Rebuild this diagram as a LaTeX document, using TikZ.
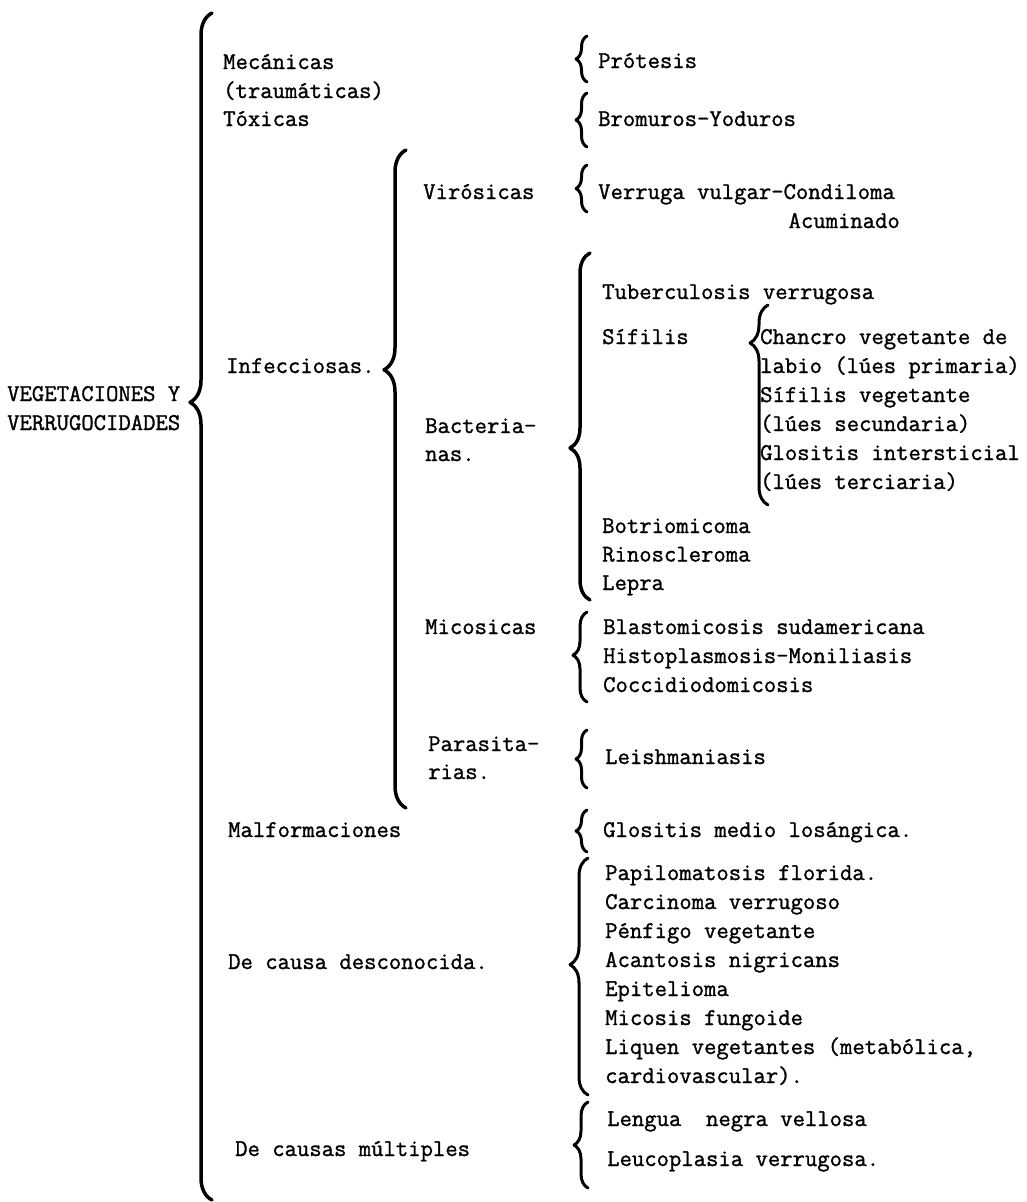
\documentclass[tikz,border=0pt]{standalone}
\usepackage{fontspec}
\setmonofont[AutoFakeBold=1.2]{Latin Modern Mono}
\usetikzlibrary{decorations.pathreplacing}
\begin{document}
\begin{tikzpicture}[x=1pt, y=-1pt,
		font=\ttfamily\bfseries\fontsize{24}{29}\selectfont,
		texto/.style={anchor=base west, inner sep=0pt, yshift=-6pt},
		llave/.style={decorate, decoration={brace, amplitude=#1}, line width=3pt, line cap=round, line join=round},
		llave/.default=11]
	\fill[white] (0,0) rectangle (1026,1202);
	\useasboundingbox (0,0) rectangle (1026,1202);
	% Raiz
	\node[texto] (raiz1) at (7,395) {VEGETACIONES Y};
	\node[texto] (raiz2) at (7,424) {VERRUGOCIDADES};
	\draw[llave=22, line width=3.5pt, decoration={aspect=0.672}] (212,1200) -- (212,13);
	% Primer nivel
	\node[texto] (mec) at (223,63) {Mecánicas};
	\node[texto] (trau) at (223,92) {(traumáticas)};
	\node[texto] (tox) at (223,120) {Tóxicas};
	\node[texto] (inf) at (226,367) {Infecciosas.};
	\node[texto] (malf) at (228,831) {Malformaciones};
	\node[texto] (desc) at (228,963) {De causa desconocida.};
	\node[texto] (mult) at (235,1150) {De causas múltiples};
	% Infecciosas
	\draw[llave=22, line width=3.5pt, decoration={aspect=0.666}] (406,808) -- (406,150);
	\node[texto] (vir) at (423,193) {Virósicas};
	\node[texto] (bac1) at (425,427) {Bacteria-};
	\node[texto] (bac2) at (425,455) {nas.};
	\node[texto] (mic) at (425,628) {Micosicas};
	\node[texto] (par1) at (428,745) {Parasita-};
	\node[texto] (par2) at (428,773) {rias.};
	% Llaves de la derecha
	\foreach \arriba/\abajo in {36/82, 93/147, 165/212, 730/788, 810/852}
		\draw[llave] (587,\abajo) -- (587,\arriba);
	\draw[llave=20, line width=3.5pt, decoration={aspect=0.438}] (590,600) -- (590,253);
	\draw[llave=18, decoration={aspect=0.81}] (768,505) -- (768,305);
	\draw[llave=14, decoration={aspect=0.52}] (587,702) -- (587,612);
	\draw[llave=18, decoration={aspect=0.55}] (588,1095) -- (588,858);
	\draw[llave=14] (588,1188) -- (588,1102);
	% Causas
	\node[texto] (prot) at (598,62) {Prótesis};
	\node[texto] (brom) at (598,120) {Bromuros-Yoduros};
	\node[texto] (verr) at (598,193) {Verruga vulgar-Condiloma};
	\node[texto, anchor=base east] (acum) at (900,222) {Acuminado};
	\node[texto] (tbc) at (602,293) {Tuberculosis verrugosa};
	\node[texto] (sif) at (602,338) {Sífilis};
	\foreach \t [count=\i from 0] in {Chancro vegetante de, labio (lúes primaria), Sífilis vegetante, (lúes secundaria), Glositis intersticial, (lúes terciaria)}
		\node[texto] (sif\i) at (760,{338+29*\i}) {\t};
	\foreach \t [count=\i from 0] in {Botriomicoma, Rinoscleroma, Lepra}
		\node[texto] (bact\i) at (602,{527+28.5*\i}) {\t};
	\foreach \t [count=\i from 0] in {Blastomicosis sudamericana, Histoplasmosis-Moniliasis, Coccidiodomicosis}
		\node[texto] (mico\i) at (603,{628+29*\i}) {\t};
	\node[texto] (leish) at (605,758) {Leishmaniasis};
	\node[texto] (glos) at (603,831) {Glositis medio losángica.};
	\foreach \t [count=\i from 0] in {Papilomatosis florida., Carcinoma verrugoso, Pénfigo vegetante, Acantosis nigricans, Epitelioma, Micosis fungoide, {Liquen vegetantes (metabólica,}, cardiovascular).}
		\node[texto] (desc\i) at (605,{874+29*\i}) {\t};
	\node[texto] (leng) at (607,1120) {Lengua\ \ negra vellosa};
	\node[texto] (leuc) at (607,1160) {Leucoplasia verrugosa.};
\end{tikzpicture}
\end{document}
